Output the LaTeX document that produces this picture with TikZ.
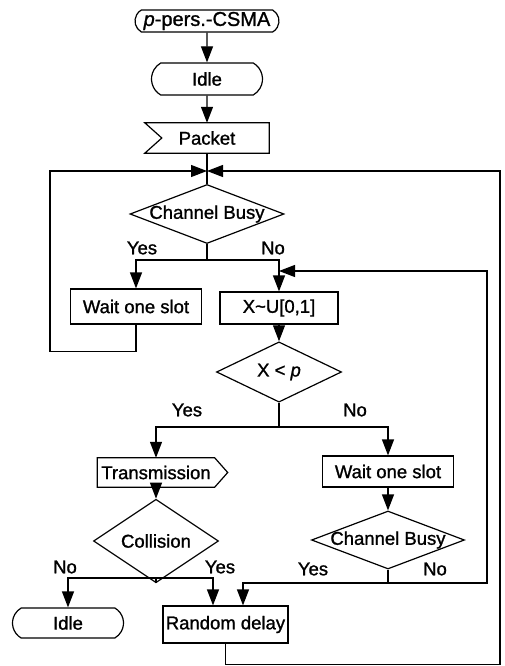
\documentclass[tikz,border=0pt]{standalone}
\usepackage{fontspec}
\setmainfont{Liberation Sans}[BoldFont=Liberation Sans, BoldFeatures={FakeBold=1.2}, BoldItalicFont=Liberation Sans Italic, BoldItalicFeatures={FakeBold=1.2}]
\usetikzlibrary{arrows.meta,shapes.geometric,shapes.misc}
\begin{document}
\begin{tikzpicture}[x=1pt,y=-1pt,
  every node/.style={font=\fontsize{18.5}{20}\selectfont\bfseries},
  ln/.style={line width=1.2pt},
  arr/.style={ln,-{Triangle[length=16pt,width=12pt]}},
  term/.style={rounded rectangle, rounded rectangle arc length=120, draw, ln, inner sep=0pt},
  box/.style={rectangle, draw, ln, inner sep=0pt},
  dec/.style={diamond, draw, ln, inner sep=0pt},
  plain/.style={rectangle, inner sep=0pt},
  lbl/.style={inner sep=0pt}]
\useasboundingbox (0,0) rectangle (504,666);

% top chain
\node[term, minimum width=144pt, minimum height=22pt, font=\fontsize{20}{22}\selectfont\bfseries] (start) at (207,21) {\textit{p}-pers.-CSMA};
\node[term, minimum width=111pt, minimum height=32pt] (idle1) at (207,79) {Idle};
\node[plain, minimum width=124pt, minimum height=30pt] (pk) at (207,138) {Packet};
\draw[ln] (pk.north west) -- (pk.north east) -- (pk.south east) -- (pk.south west) -- ([xshift=17pt]pk.west) -- cycle;
\coordinate (merge) at (207,171);
\node[dec, minimum width=154pt, minimum height=59pt] (cb1) at (207,214) {\makebox[0pt]{Channel Busy}};

\draw[arr] (start) -- (idle1);
\draw[arr] (idle1) -- (pk);
\draw[ln] (pk.south) -- (cb1.north);

% first branch
\coordinate (b1) at (207,260);
\node[lbl] (y1) at (142,248) {Yes};
\node[lbl] (n1) at (273,248) {No};
\node[box, minimum width=131pt, minimum height=35pt] (w1) at (136,306.5) {Wait one slot};
\node[box, minimum width=118pt, minimum height=32pt] (xu) at (279,308) {X\textasciitilde U[0,1]};
\draw[ln] (cb1.south) -- (b1);
\draw[arr] (b1) -| (w1.north);
\draw[arr] (b1) -| (xu.north);

% left loop
\draw[arr] (w1.south) -- ++(0,27) -| (50,171) -- (merge);

% X < p
\node[dec, minimum width=125pt, minimum height=48pt] (xp) at (279,372) {X < \textit{p}};
\draw[arr] (xu) -- (xp);
\coordinate (b2) at (279,427);
\draw[ln] (xp.south) -- (b2);
\node[lbl] (y2) at (187,410) {Yes};
\node[lbl] (n2) at (355,410) {No};

% transmission
\node[plain, minimum width=117pt, minimum height=29pt] (tr) at (156,472.5) {Transmission};
\draw[ln] (tr.north west) -- (tr.north east) -- ([xshift=13pt]tr.east) -- (tr.south east) -- (tr.south west) -- cycle;
\node[box, minimum width=131pt, minimum height=31pt] (w2) at (388,471.5) {Wait one slot};
\draw[arr] (b2) -| (tr.north);
\draw[arr] (b2) -| (w2.north);

% collision
\node[dec, minimum width=125pt, minimum height=48pt] (col) at (156,541) {Collision};
\draw[arr] (tr) -- (col);
\coordinate (b3) at (156,578);
\draw[ln] (col.south) -- (b3);
\node[lbl] (n3) at (65,567) {No};
\node[lbl] (y3) at (220,567) {Yes};

% channel busy 2
\node[dec, minimum width=153pt, minimum height=58pt] (cb2) at (388,540) {\makebox[0pt]{Channel Busy}};
\draw[arr] (w2) -- (cb2);
\coordinate (b4) at (388,583);
\draw[ln] (cb2.south) -- (b4);
\node[lbl] (y4) at (313,569) {Yes};
\node[lbl] (n4) at (435,569) {No};

% bottom nodes
\node[term, minimum width=111pt, minimum height=30pt] (idle2) at (68,623) {Idle};
\node[box, minimum width=125pt, minimum height=37pt] (rd) at (225.5,624.5) {Random delay};
\draw[arr] (b3) -| (idle2.north);
\draw[arr] (b3) -| ([xshift=-12.5pt]rd.north);
\draw[arr] (b4) -| ([xshift=17.5pt]rd.north);

% inner right loop
\coordinate (j1) at (279,271);
\draw[arr] (b4) -| (487,271) -- (j1);

% outer loop
\draw[arr] (rd.south) -- ++(0,21) -| (500,171) -- (merge);
\end{tikzpicture}
\end{document}
